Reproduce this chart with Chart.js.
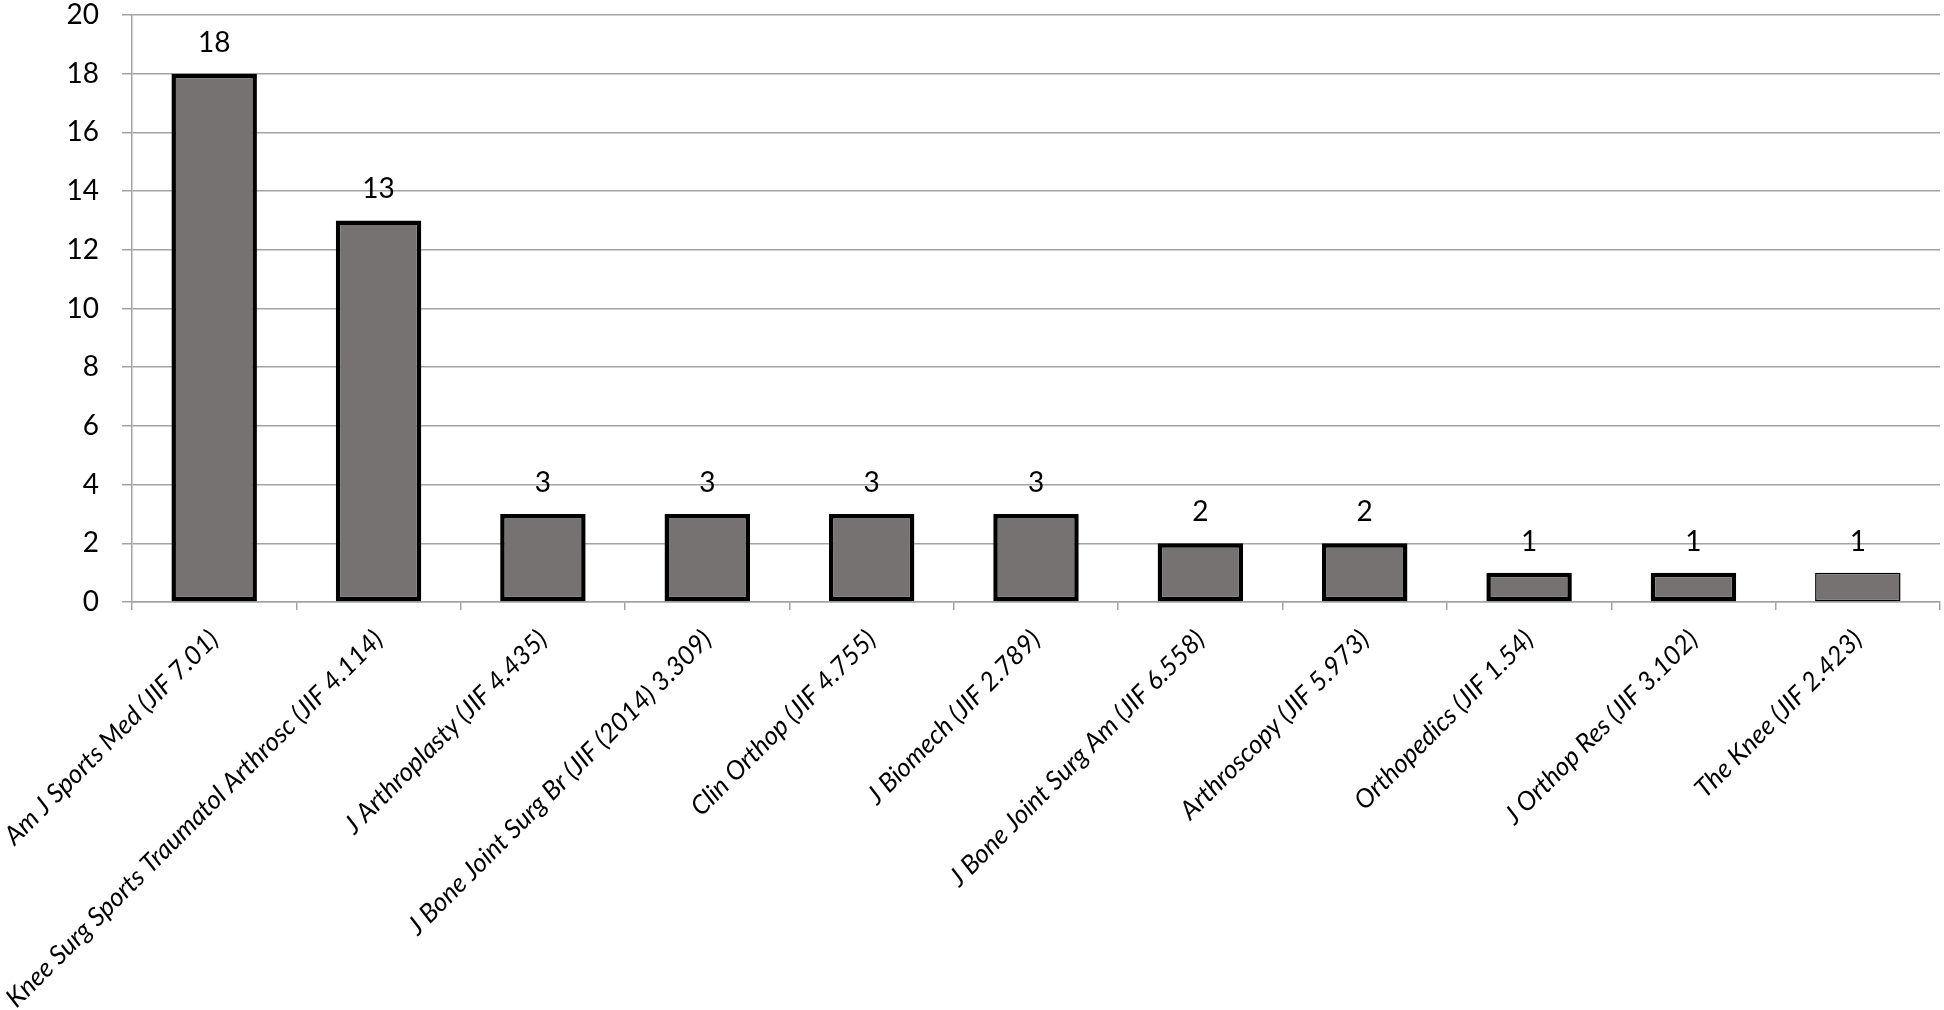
<!DOCTYPE html>
<html lang="en">
<head>
  <meta charset="UTF-8">
  <title>Publications per journal</title>
  <script src="https://cdn.jsdelivr.net/npm/chart.js"></script>
  <style>
    html, body { margin: 0; padding: 0; background: #fff; }
    .chart-container { width: 1944px; height: 1010px; position: relative; }
  </style>
</head>
<body>
  <div class="chart-container">
    <canvas id="journalChart"></canvas>
  </div>

  <script>
    const journals = [
      "Am J Sports Med (JIF 7.01)",
      "Knee Surg Sports Traumatol Arthrosc (JIF 4.114)",
      "J Arthroplasty (JIF 4.435)",
      "J Bone Joint Surg Br (JIF (2014) 3.309)",
      "Clin Orthop (JIF 4.755)",
      "J Biomech (JIF 2.789)",
      "J Bone Joint Surg Am (JIF 6.558)",
      "Arthroscopy (JIF 5.973)",
      "Orthopedics (JIF 1.54)",
      "J Orthop Res (JIF 3.102)",
      "The Knee (JIF 2.423)"
    ];
    const articleCounts = [18, 13, 3, 3, 3, 3, 2, 2, 1, 1, 1];
    const yTicks = [0, 2, 4, 6, 8, 10, 12, 14, 16, 18, 20];

    const gridGrey = "#a3a3a3";
    const fontFamily = "Lato, 'Liberation Sans', sans-serif";

    // Draws the value above every bar, like the Excel data labels.
    const valueLabels = {
      id: "valueLabels",
      afterDatasetsDraw(chart) {
        const ctx = chart.ctx;
        const meta = chart.getDatasetMeta(0);
        ctx.save();
        ctx.font = "28px " + fontFamily;
        ctx.fillStyle = "#000";
        ctx.textAlign = "center";
        ctx.textBaseline = "alphabetic";
        meta.data.forEach((bar, i) => {
          ctx.fillText(String(articleCounts[i]), bar.x, bar.y - 22);
        });
        ctx.restore();
      }
    };

    const ctx = document.getElementById("journalChart").getContext("2d");
    new Chart(ctx, {
      type: "bar",
      data: {
        labels: journals,
        datasets: [{
          data: articleCounts,
          backgroundColor: "#767272",
          borderColor: "#000",
          // the last bar only has a thin outline in the original
          borderWidth: articleCounts.map((v, i) => i === articleCounts.length - 1 ? 1.5 : 4.5),
          borderSkipped: false,
          barPercentage: 0.52,
          categoryPercentage: 1
        }]
      },
      options: {
        responsive: true,
        maintainAspectRatio: false,
        animation: false,
        layout: { padding: { top: 15, right: 4, left: 0, bottom: 0 } },
        plugins: {
          legend: { display: false },
          tooltip: { enabled: false }
        },
        scales: {
          x: {
            grid: {
              display: true,
              drawOnChartArea: false,
              drawTicks: true,
              tickLength: 8,
              color: gridGrey,
              lineWidth: 1.5
            },
            border: { display: true, color: gridGrey, width: 1.5 },
            ticks: {
              autoSkip: false,
              minRotation: 45,
              maxRotation: 45,
              padding: 14,
              color: "#000",
              font: { family: fontFamily, size: 26, style: "italic" }
            },
            afterFit(scale) {
              scale.height = 408;
              scale.paddingLeft = 0;
              scale.paddingRight = 0;
            }
          },
          y: {
            min: 0,
            max: 20,
            afterBuildTicks(scale) { scale.ticks = yTicks.map(v => ({ value: v })); },
            grid: {
              color: gridGrey,
              lineWidth: 1.5,
              tickLength: 10
            },
            border: { display: true, color: gridGrey, width: 1.5 },
            ticks: {
              padding: 23,
              color: "#000",
              font: { family: fontFamily, size: 28 }
            },
            afterFit(scale) {
              scale.width = 132;
              scale.paddingTop = 0;
              scale.paddingBottom = 0;
            }
          }
        }
      },
      plugins: [valueLabels]
    });
  </script>
</body>
</html>
